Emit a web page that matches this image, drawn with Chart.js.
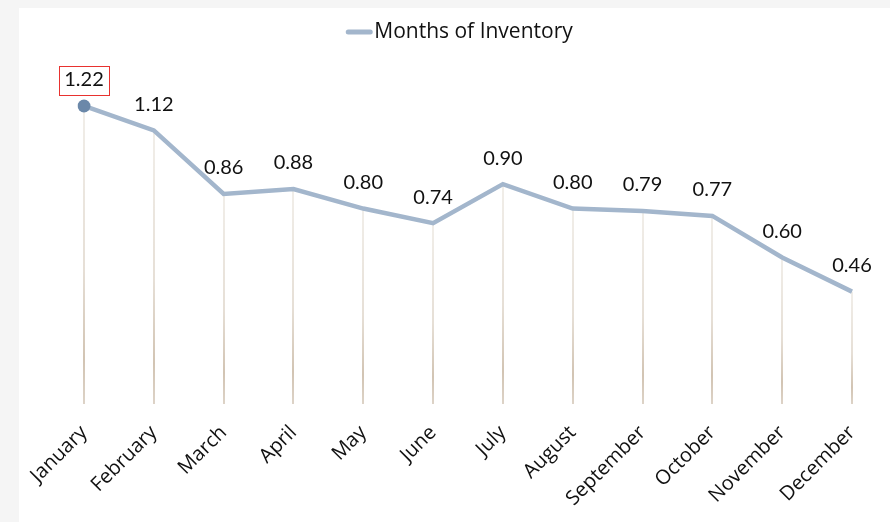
<!DOCTYPE html>
<html>
<head>
<meta charset="utf-8">
<script src="https://cdn.jsdelivr.net/npm/chart.js@4/dist/chart.umd.min.js"></script>
<style>
  html, body { margin: 0; padding: 0; background: #f5f5f5; }
  #card { position: absolute; left: 19px; top: 8px; width: 871px; height: 514px; background: #ffffff; }
  #card canvas { display: block; }
</style>
</head>
<body>
<div id="card"><canvas id="chart" width="871" height="514"></canvas></div>
<script>
const months = ['January', 'February', 'March', 'April', 'May', 'June', 'July',
                'August', 'September', 'October', 'November', 'December'];
const monthsOfInventory = [1.22, 1.12, 0.86, 0.88, 0.80, 0.74, 0.90, 0.80, 0.79, 0.77, 0.60, 0.46];
const seriesName = 'Months of Inventory';

const FONT = 'Lato, "Open Sans", sans-serif';
const WIDE_FONT = '"Open Sans", Lato, sans-serif';
const LINE_COLOR = '#a3b6cc';
const POINT_COLOR = '#6b88a9';
const peakIndex = monthsOfInventory.indexOf(Math.max(...monthsOfInventory));

// vertical drop lines from each point down to the baseline
const dropLines = {
  id: 'dropLines',
  beforeDatasetsDraw(chart) {
    const { ctx, chartArea } = chart;
    const meta = chart.getDatasetMeta(0);
    ctx.save();
    ctx.lineWidth = 2;
    meta.data.forEach(pt => {
      const g = ctx.createLinearGradient(0, pt.y, 0, chartArea.bottom);
      g.addColorStop(0, '#f1eee9');
      g.addColorStop(0.55, '#e6dfd6');
      g.addColorStop(0.85, '#d2c4b3');
      g.addColorStop(1, '#ddd3c7');
      ctx.strokeStyle = g;
      ctx.beginPath();
      ctx.moveTo(Math.round(pt.x), pt.y);
      ctx.lineTo(Math.round(pt.x), chartArea.bottom);
      ctx.stroke();
    });
    ctx.restore();
  }
};

// value labels above each point, the peak one boxed in red
const valueLabels = {
  id: 'valueLabels',
  afterDatasetsDraw(chart) {
    const { ctx } = chart;
    const meta = chart.getDatasetMeta(0);
    const values = chart.data.datasets[0].data;
    ctx.save();
    ctx.font = '20px ' + FONT;
    ctx.fillStyle = '#111111';
    ctx.textAlign = 'center';
    ctx.textBaseline = 'middle';
    meta.data.forEach((pt, i) => {
      const text = values[i].toFixed(2);
      const ty = pt.y - 26;
      ctx.fillText(text, pt.x, ty);
      if (i === peakIndex) {
        const w = ctx.measureText(text).width;
        ctx.strokeStyle = '#e8322f';
        ctx.lineWidth = 1;
        ctx.strokeRect(Math.round(pt.x - w / 2 - 5) + 0.5, Math.round(ty - 14) + 0.5,
                       Math.round(w + 10), 29);
      }
    });
    ctx.restore();
  }
};

// legend: short rounded line followed by the series name
const topLegend = {
  id: 'topLegend',
  afterDraw(chart) {
    const { ctx, width } = chart;
    ctx.save();
    ctx.font = '21px ' + WIDE_FONT;
    const tw = ctx.measureText(seriesName).width;
    const lineW = 26, gap = 2;
    const total = lineW + gap + tw;
    const x0 = width / 2 - total / 2 + 5;
    const y = 24;
    ctx.strokeStyle = LINE_COLOR;
    ctx.lineWidth = 5;
    ctx.lineCap = 'round';
    ctx.beginPath();
    ctx.moveTo(x0 + 2, y);
    ctx.lineTo(x0 + lineW - 2, y);
    ctx.stroke();
    ctx.fillStyle = '#111111';
    ctx.textAlign = 'left';
    ctx.textBaseline = 'middle';
    ctx.fillText(seriesName, x0 + lineW + gap, y);
    ctx.restore();
  }
};

new Chart(document.getElementById('chart'), {
  type: 'line',
  data: {
    labels: months,
    datasets: [{
      label: seriesName,
      data: monthsOfInventory,
      borderColor: LINE_COLOR,
      borderWidth: 4.5,
      tension: 0,
      fill: false,
      pointRadius: ctx => ctx.dataIndex === peakIndex ? 6.5 : 0,
      pointHoverRadius: 0,
      pointBackgroundColor: POINT_COLOR,
      pointBorderColor: POINT_COLOR,
      pointBorderWidth: 0
    }]
  },
  options: {
    responsive: false,
    animation: false,
    events: [],
    layout: { padding: { left: 65, right: 38, top: 54, bottom: 0 } },
    plugins: {
      legend: { display: false },
      tooltip: { enabled: false }
    },
    scales: {
      x: {
        offset: false,
        grid: { display: false },
        border: { display: false },
        afterFit(scale) { scale.height = 118; },
        ticks: {
          minRotation: 45,
          maxRotation: 45,
          padding: 9,
          color: '#111111',
          font: { family: WIDE_FONT, size: 20 }
        }
      },
      y: {
        display: false,
        min: 0,
        max: 1.4
      }
    }
  },
  plugins: [dropLines, valueLabels, topLegend]
});
</script>
</body>
</html>
